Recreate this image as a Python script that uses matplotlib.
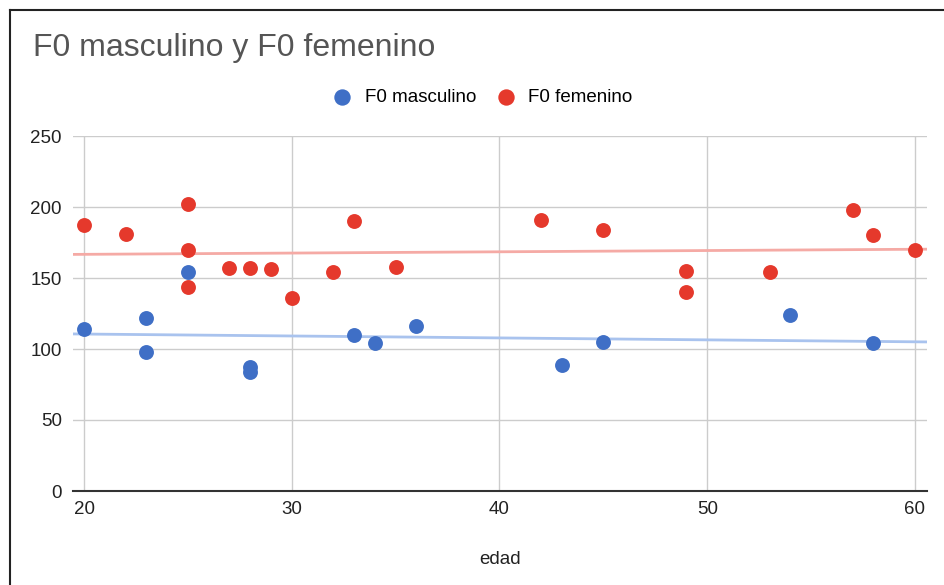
import numpy as np
import matplotlib.pyplot as plt
from matplotlib.lines import Line2D

plt.rcParams['font.family'] = ['Liberation Sans', 'DejaVu Sans']

# datos
edad_m = [20, 23, 23, 25, 28, 28, 33, 34, 36, 43, 45, 54, 58]
f0_m = [114, 122, 98, 154, 87, 84, 110, 104, 116, 89, 105, 124, 104]

edad_f = [20, 22, 25, 25, 25, 27, 28, 29, 30, 32, 33, 35, 42, 45, 49, 49, 53, 57, 58, 60]
f0_f = [187, 181, 202, 170, 144, 157, 157, 156, 136, 154, 190, 158, 191, 184, 155, 140, 154, 198, 180, 170]

azul, rojo = '#3f6fc6', '#e5392c'

fig = plt.figure(figsize=(9.44, 5.85), dpi=100)
ax = fig.add_axes([73/944, 94/585, 854/944, 355/585])

# lineas de tendencia
xs = np.array([19.47, 60.58])
for x, y, c in [(edad_m, f0_m, '#a9c3ee'), (edad_f, f0_f, '#f5aaa5')]:
    p = np.polyfit(x, y, 1)
    ax.plot(xs, np.polyval(p, xs), color=c, lw=2, zorder=2)

ax.scatter(edad_m, f0_m, s=115, color=azul, zorder=3, label='F0 masculino', linewidths=0)
ax.scatter(edad_f, f0_f, s=115, color=rojo, zorder=3, label='F0 femenino', linewidths=0)

ax.set_xlim(19.47, 60.58)
ax.set_ylim(0, 250)
ax.set_xticks([20, 30, 40, 50, 60])
ax.set_yticks([0, 50, 100, 150, 200, 250])
ax.grid(True, color='#cccccc', lw=1)
ax.set_axisbelow(True)
for s in ['top', 'right', 'left']:
    ax.spines[s].set_visible(False)
ax.spines['bottom'].set_color('#333333')
ax.spines['bottom'].set_linewidth(1.5)
ax.tick_params(length=0, labelsize=13.5, colors='#222222')
ax.tick_params(axis='y', pad=8)
ax.tick_params(axis='x', pad=7)
ax.set_xlabel('edad', fontsize=13.5, color='#222222', labelpad=24)

fig.text(33/944, 1 - 48/585, 'F0 masculino y F0 femenino', fontsize=23,
         color='#555555', va='center', ha='left')
fig.legend(loc='center', bbox_to_anchor=(478/944, 1 - 97/585), ncol=2, frameon=False,
           fontsize=13.5, handletextpad=0.2, columnspacing=0.6, markerscale=1.1)

# marco exterior
fig.add_artist(Line2D([10/944, 10/944], [0, 1 - 10/585], color='#222222', lw=1.5))
fig.add_artist(Line2D([10/944, 1], [1 - 10/585, 1 - 10/585], color='#222222', lw=1.5))

plt.savefig('out.png', dpi=100)
